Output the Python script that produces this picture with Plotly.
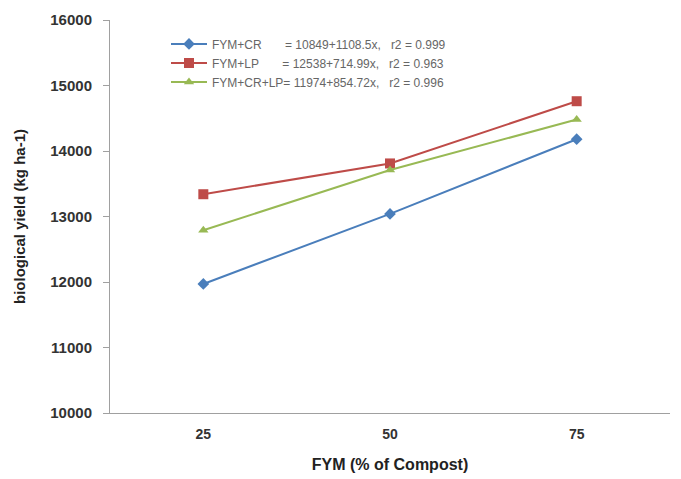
import plotly.graph_objects as go

categories = ["25", "50", "75"]
fym_cr = [11970, 13040, 14180]
fym_lp = [13340, 13810, 14760]
fym_cr_lp = [12790, 13710, 14480]

names = [
    "FYM+CR\u00a0\u00a0\u00a0\u00a0\u00a0\u00a0\u00a0= 10849+1108.5x,\u00a0\u00a0 r2 = 0.999",
    "FYM+LP\u00a0\u00a0\u00a0\u00a0\u00a0\u00a0\u00a0= 12538+714.99x,\u00a0\u00a0 r2 = 0.963",
    "FYM+CR+LP= 11974+854.72x,\u00a0\u00a0 r2 = 0.996",
]
y_ticks = [10000, 11000, 12000, 13000, 14000, 15000, 16000]

fig = go.Figure()
fig.add_trace(go.Scatter(x=categories, y=fym_cr, name=names[0], mode="lines+markers",
                         line=dict(color="#4A7EBB", width=2),
                         marker=dict(symbol="diamond", size=9, color="#4A7EBB")))
fig.add_trace(go.Scatter(x=categories, y=fym_lp, name=names[1], mode="lines+markers",
                         line=dict(color="#BE4B48", width=2),
                         marker=dict(symbol="square", size=10, color="#BE4B48")))
fig.add_trace(go.Scatter(x=categories, y=fym_cr_lp, name=names[2], mode="lines+markers",
                         line=dict(color="#98B954", width=2),
                         marker=dict(symbol="triangle-up", size=9, color="#98B954")))

fig.update_layout(
    width=681, height=479,
    margin=dict(l=102, r=19, t=12, b=74),
    paper_bgcolor="white", plot_bgcolor="white",
    font=dict(family="Liberation Sans, Arial, sans-serif", color="#333333"),
    showlegend=True,
    legend=dict(x=0.1, y=0.976, xanchor="left", yanchor="top",
                bgcolor="rgba(0,0,0,0)", font=dict(size=12, color="#666666"),
                itemwidth=36, tracegroupgap=0),
    xaxis=dict(type="category", range=[-0.5, 2.5], showline=True, linecolor="#A0A0A0", linewidth=1,
               automargin=False,
               ticks="", showgrid=False, zeroline=False, ticklabelstandoff=8,
               tickvals=categories, ticktext=["<b>%s</b>" % c for c in categories],
               tickfont=dict(size=14, color="#333333"),
               title=dict(text="<b>FYM (% of Compost)</b>", font=dict(size=16, color="#222222"), standoff=18)),
    yaxis=dict(range=[10000, 16000], tickvals=y_ticks, ticktext=["<b>%d</b>" % v for v in y_ticks],
               automargin=False,
               showline=True, linecolor="#A0A0A0", linewidth=1,
               ticks="outside", ticklen=6, tickcolor="#A0A0A0", ticklabelstandoff=8,
               showgrid=False, zeroline=False,
               tickfont=dict(size=15, color="#333333"),
               title=dict(text="<b>biological yield (kg ha-1)</b>", font=dict(size=15, color="#222222"), standoff=21)),
)

fig.write_html("out.html")
